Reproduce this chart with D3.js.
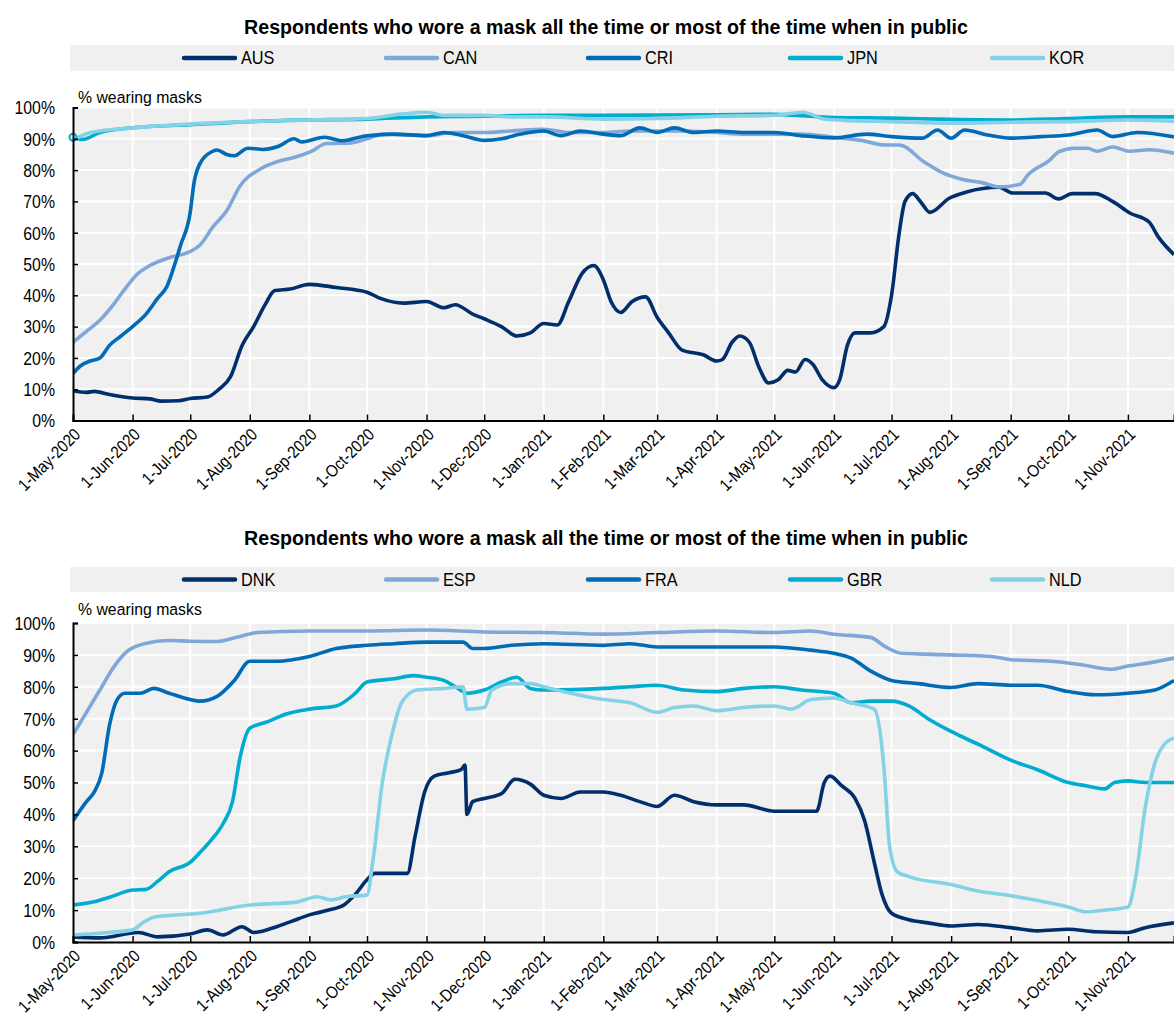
<!DOCTYPE html>
<html>
<head>
<meta charset="utf-8">
<script src="https://cdn.jsdelivr.net/npm/d3@7"></script>
<style>
  html, body { margin: 0; padding: 0; background: #fff; }
  svg { display: block; }
  text { font-family: "Liberation Sans", Arial, sans-serif; fill: #000; }
</style>
</head>
<body>
<svg id="chart" width="1174" height="1018"></svg>
<script>
// ---------- DATA ----------
const titleText = "Respondents who wore a mask all the time or most of the time when in public";
const yLabel = "% wearing masks";
const yTicks = [0, 10, 20, 30, 40, 50, 60, 70, 80, 90, 100];
const monthTicks = ["2020-05-01","2020-06-01","2020-07-01","2020-08-01","2020-09-01","2020-10-01","2020-11-01","2020-12-01",
  "2021-01-01","2021-02-01","2021-03-01","2021-04-01","2021-05-01","2021-06-01","2021-07-01","2021-08-01","2021-09-01","2021-10-01","2021-11-01"];
const xStart = "2020-05-01";
const xEnd = "2021-11-25";

const topCategories = ["AUS", "CAN", "CRI", "JPN", "KOR"];
const bottomCategories = ["DNK", "ESP", "FRA", "GBR", "NLD"];
const colors = ["#002F6C", "#7FA8D9", "#006BB6", "#00ACCF", "#84D2E6"];

const AUS = [["2020-05-01",9.5],["2020-05-08",9],["2020-05-12",9.3],["2020-05-20",8.3],["2020-06-01",7.2],["2020-06-10",6.9],["2020-06-16",6.2],["2020-06-25",6.3],["2020-07-01",7],["2020-07-10",7.5],["2020-07-16",10],["2020-07-22",14],["2020-07-28",24],["2020-08-03",30],["2020-08-09",37],["2020-08-14",41.5],["2020-08-22",42],["2020-09-01",43.5],["2020-09-15",42.5],["2020-10-01",41],["2020-10-08",39],["2020-10-20",37.5],["2020-11-01",38],["2020-11-10",36],["2020-11-16",37],["2020-11-25",34],["2020-12-01",32.5],["2020-12-10",30],["2020-12-18",27],["2020-12-25",28],["2021-01-01",31],["2021-01-08",30.5],["2021-01-14",38],["2021-01-21",47],["2021-01-27",49.5],["2021-02-01",45],["2021-02-05",38],["2021-02-10",34.5],["2021-02-16",38],["2021-02-23",39.5],["2021-03-01",33],["2021-03-07",28],["2021-03-14",22.5],["2021-03-25",21],["2021-04-01",19],["2021-04-04",19.5],["2021-04-09",25],["2021-04-13",27],["2021-04-18",25],["2021-04-23",17],["2021-04-28",12],["2021-05-03",13],["2021-05-08",16],["2021-05-12",15.5],["2021-05-17",19.5],["2021-05-21",18],["2021-05-26",13],["2021-06-01",10.5],["2021-06-04",13],["2021-06-08",24],["2021-06-12",28],["2021-06-20",28],["2021-06-27",30],["2021-07-01",40],["2021-07-05",60],["2021-07-08",70],["2021-07-12",72.5],["2021-07-16",70],["2021-07-21",66.5],["2021-07-31",71],["2021-08-09",73],["2021-08-26",74.5],["2021-09-02",72.7],["2021-09-19",72.7],["2021-09-26",70.8],["2021-10-03",72.5],["2021-10-15",72.5],["2021-10-24",70],["2021-11-02",66.3],["2021-11-12",63.4],["2021-11-17",58.5],["2021-11-25",53]];
const CAN = [["2020-05-01",25],["2020-05-08",28.5],["2020-05-15",32],["2020-05-22",37],["2020-05-28",42],["2020-06-03",46.5],["2020-06-10",49.5],["2020-06-20",52],["2020-07-01",54],["2020-07-06",56],["2020-07-13",62],["2020-07-20",67],["2020-07-27",75],["2020-08-07",80.5],["2020-08-16",82.8],["2020-08-24",84],["2020-09-02",86],["2020-09-10",88.5],["2020-09-23",88.7],["2020-10-01",90],["2020-10-10",91.5],["2020-11-01",91],["2020-11-15",92],["2020-12-01",92],["2020-12-15",92.5],["2021-01-01",93],["2021-01-15",92],["2021-02-01",92],["2021-02-15",92.5],["2021-03-01",92.5],["2021-03-15",92.5],["2021-04-01",92],["2021-04-15",91.5],["2021-05-01",91.5],["2021-05-15",91.5],["2021-06-01",90.5],["2021-06-15",89.5],["2021-06-28",88],["2021-07-05",88],["2021-07-18",82.6],["2021-07-28",79],["2021-08-07",77],["2021-08-17",76],["2021-08-26",74.6],["2021-09-06",75.5],["2021-09-10",78.5],["2021-09-21",83],["2021-09-26",85.8],["2021-10-04",87],["2021-10-11",87],["2021-10-16",86],["2021-10-24",87.4],["2021-11-02",86],["2021-11-12",86.5],["2021-11-25",85.4]];
const CRI = [["2020-05-01",15],["2020-05-05",17.5],["2020-05-10",19],["2020-05-15",20],["2020-05-20",24],["2020-05-26",27],["2020-06-01",30],["2020-06-08",34],["2020-06-14",39],["2020-06-19",43],["2020-06-23",50],["2020-06-26",56],["2020-07-01",66.5],["2020-07-03",76],["2020-07-06",82],["2020-07-12",85.8],["2020-07-15",86.4],["2020-07-20",85],["2020-07-24",84.6],["2020-07-31",87],["2020-08-08",86.6],["2020-08-16",87.6],["2020-08-24",90],["2020-08-28",89],["2020-09-09",90.5],["2020-09-18",89.4],["2020-10-01",91],["2020-10-15",91.5],["2020-11-01",91],["2020-11-10",92],["2020-11-20",91],["2020-12-01",89.5],["2020-12-10",90],["2020-12-20",91.5],["2021-01-01",92.5],["2021-01-10",91],["2021-01-20",92.5],["2021-02-01",91.5],["2021-02-10",91],["2021-02-20",93.5],["2021-03-01",92],["2021-03-10",93.5],["2021-03-20",92],["2021-04-01",92.5],["2021-04-15",92],["2021-05-01",92],["2021-05-15",91],["2021-06-01",90.3],["2021-06-18",91.5],["2021-07-01",90.7],["2021-07-17",90.2],["2021-07-25",92.8],["2021-08-01",90.2],["2021-08-08",92.8],["2021-08-20",91.2],["2021-09-01",90.2],["2021-09-17",90.7],["2021-10-01",91.2],["2021-10-16",92.8],["2021-10-24",90.7],["2021-11-06",92],["2021-11-25",90.6]];
const JPN = [["2020-05-01",90.5],["2020-05-06",89.8],["2020-05-15",92],["2020-06-01",93.5],["2020-07-01",94.5],["2020-08-01",95.5],["2020-09-01",96],["2020-10-01",96.3],["2020-11-01",97],["2020-12-01",97.2],["2021-01-01",97.5],["2021-02-01",97.5],["2021-03-01",97.6],["2021-04-01",97.7],["2021-05-01",97.8],["2021-06-01",96.8],["2021-07-01",96.6],["2021-08-01",96.2],["2021-09-01",96],["2021-10-01",96.5],["2021-11-01",97],["2021-11-25",97]];
const KOR = [["2020-05-01",89.5],["2020-05-10",92],["2020-06-01",93.5],["2020-07-01",94.7],["2020-08-01",95.5],["2020-09-01",96],["2020-10-01",96.5],["2020-10-20",98],["2020-11-01",98.5],["2020-11-10",97.5],["2020-12-01",97.5],["2020-12-15",97],["2021-01-01",97],["2021-02-01",96.3],["2021-03-01",96.5],["2021-04-01",97.2],["2021-05-01",97.5],["2021-05-16",98.5],["2021-05-27",96.3],["2021-06-10",95.8],["2021-07-01",95.5],["2021-08-01",95],["2021-09-01",95.3],["2021-10-01",95.5],["2021-11-01",96],["2021-11-25",95.6]];

const DNK = [["2020-05-01",1.6],["2020-05-15",1.3],["2020-06-04",3],["2020-06-14",1.6],["2020-07-01",2.5],["2020-07-10",3.8],["2020-07-18",2.2],["2020-07-28",4.8],["2020-08-03",3],["2020-08-12",4.2],["2020-08-22",6.3],["2020-09-01",8.5],["2020-09-11",10],["2020-09-19",11.6],["2020-09-25",15],["2020-10-01",19.5],["2020-10-05",21.5],["2020-10-15",21.5],["2020-10-22",21.5],["2020-10-26",33],["2020-10-31",47],["2020-11-05",52],["2020-11-12",53],["2020-11-19",54],["2020-11-21",55.5],["2020-11-22",40],["2020-11-25",44],["2020-12-01",45],["2020-12-10",46.5],["2020-12-17",51],["2020-12-25",49.5],["2021-01-01",46],["2021-01-10",45],["2021-01-20",47],["2021-02-01",47],["2021-02-10",46],["2021-02-20",44],["2021-03-01",42.5],["2021-03-10",46],["2021-03-20",44],["2021-04-01",43],["2021-04-15",43],["2021-05-01",41],["2021-05-15",41],["2021-05-23",41],["2021-05-27",50],["2021-05-30",52],["2021-06-05",49],["2021-06-12",45],["2021-06-17",38],["2021-06-22",25],["2021-06-26",15],["2021-07-01",9],["2021-07-10",7],["2021-07-20",6],["2021-08-01",5],["2021-08-15",5.5],["2021-09-01",4.5],["2021-09-15",3.5],["2021-10-01",4],["2021-10-15",3.2],["2021-11-01",3],["2021-11-10",4.5],["2021-11-25",6]];
const ESP = [["2020-05-01",65],["2020-05-08",72],["2020-05-15",79],["2020-05-22",86],["2020-05-29",91],["2020-06-07",93.5],["2020-06-20",94.5],["2020-07-01",94.3],["2020-07-15",94.2],["2020-07-25",95.5],["2020-08-05",97],["2020-09-01",97.5],["2020-10-01",97.5],["2020-11-01",97.8],["2020-12-01",97.2],["2021-01-01",97],["2021-02-01",96.5],["2021-03-01",97],["2021-04-01",97.5],["2021-05-01",97],["2021-05-20",97.5],["2021-06-01",96.5],["2021-06-20",95.5],["2021-06-28",92.5],["2021-07-06",90.5],["2021-08-01",90],["2021-08-22",89.5],["2021-09-01",88.5],["2021-09-22",88],["2021-10-07",87],["2021-10-23",85.5],["2021-11-01",86.5],["2021-11-12",87.5],["2021-11-25",89]];
const FRA = [["2020-05-01",38],["2020-05-08",44],["2020-05-12",47],["2020-05-16",53],["2020-05-20",68],["2020-05-24",76],["2020-05-28",78],["2020-06-05",78],["2020-06-12",79.5],["2020-06-20",78],["2020-07-01",76],["2020-07-06",75.5],["2020-07-15",77],["2020-07-24",82],["2020-08-01",88],["2020-08-15",88],["2020-09-01",89.5],["2020-09-15",92],["2020-10-01",93],["2020-10-15",93.5],["2020-11-01",94],["2020-11-20",94],["2020-11-25",92],["2020-12-01",92],["2020-12-15",93],["2021-01-01",93.5],["2021-02-01",93],["2021-02-15",93.5],["2021-03-01",92.5],["2021-04-01",92.5],["2021-05-01",92.5],["2021-05-20",91.5],["2021-06-01",90.5],["2021-06-10",89],["2021-06-20",85],["2021-07-01",82],["2021-07-15",81],["2021-08-01",79.8],["2021-08-15",81],["2021-09-01",80.5],["2021-09-15",80.5],["2021-10-01",78.5],["2021-10-15",77.5],["2021-11-01",78],["2021-11-15",79],["2021-11-25",82]];
const GBR = [["2020-05-01",11.6],["2020-05-12",12.6],["2020-05-20",14],["2020-06-01",16.3],["2020-06-08",16.5],["2020-06-14",19],["2020-06-20",22],["2020-07-01",25],["2020-07-06",28],["2020-07-12",32],["2020-07-18",37],["2020-07-23",44],["2020-07-27",58],["2020-08-01",67],["2020-08-10",69],["2020-08-20",71.5],["2020-09-01",73],["2020-09-15",74],["2020-09-25",78],["2020-10-01",81.5],["2020-10-15",82.5],["2020-10-25",83.5],["2020-11-01",83],["2020-11-10",82],["2020-11-16",80],["2020-11-22",78],["2020-12-01",79],["2020-12-10",81.5],["2020-12-18",83],["2020-12-25",79.5],["2021-01-01",79],["2021-02-01",79.5],["2021-02-15",80],["2021-03-01",80.5],["2021-03-15",79],["2021-04-01",78.5],["2021-04-15",79.5],["2021-05-01",80],["2021-05-15",79],["2021-06-01",78],["2021-06-10",75],["2021-06-20",75.5],["2021-07-01",75.5],["2021-07-10",74],["2021-07-20",70],["2021-08-01",66],["2021-08-15",62],["2021-09-01",57],["2021-09-15",54],["2021-10-01",50],["2021-10-10",49],["2021-10-20",48],["2021-10-25",50],["2021-11-01",50.5],["2021-11-10",50],["2021-11-25",50]];
const NLD = [["2020-05-01",2.2],["2020-05-20",3],["2020-06-01",3.8],["2020-06-07",6.3],["2020-06-13",7.9],["2020-07-06",9],["2020-08-01",11.6],["2020-08-25",12.5],["2020-09-05",14.2],["2020-09-12",13.2],["2020-09-20",14.2],["2020-10-01",14.7],["2020-10-04",25],["2020-10-09",50],["2020-10-14",65],["2020-10-19",75],["2020-10-27",79],["2020-11-10",79.5],["2020-11-20",80],["2020-11-22",73],["2020-12-01",73.5],["2020-12-05",79],["2020-12-15",81],["2020-12-25",81],["2021-01-01",80],["2021-01-15",78],["2021-02-01",76],["2021-02-15",75],["2021-03-01",72],["2021-03-10",73.5],["2021-03-20",74],["2021-04-01",72.5],["2021-04-15",73.5],["2021-05-01",74],["2021-05-10",73],["2021-05-20",76],["2021-06-01",76.5],["2021-06-10",75],["2021-06-22",73],["2021-06-27",55],["2021-06-30",30],["2021-07-04",22],["2021-07-10",20.5],["2021-08-01",18],["2021-08-15",16],["2021-09-01",14.5],["2021-09-15",13],["2021-10-01",11],["2021-10-10",9.5],["2021-10-20",10],["2021-11-01",11],["2021-11-05",20],["2021-11-10",42],["2021-11-15",56],["2021-11-20",62],["2021-11-25",64]];

const topSeries = [AUS, CAN, CRI, JPN, KOR];
const bottomSeries = [DNK, ESP, FRA, GBR, NLD];

// ---------- DRAW ----------
const svg = d3.select("#chart");
const parse = d3.utcParse("%Y-%m-%d");
const fmt = d3.utcFormat("%-d-%b-%Y");
const SX = 0.88; // horizontal squeeze of the narrow type face

function label(g, x, y, txt, size, anchor, bold, sx) {
  return g.append("text")
    .attr("transform", `translate(${x},${y}) scale(${sx || SX},1)`)
    .attr("dy", "0.35em").attr("text-anchor", anchor)
    .style("font-size", size + "px").style("font-weight", bold ? "bold" : "normal")
    .text(txt);
}

const panels = [
  { cats: topCategories, series: topSeries, titleY: 27, bandY: 45, bandH: 26, yLabY: 97, plotTop: 107.5, plotBottom: 420.5, startMarker: 3 },
  { cats: bottomCategories, series: bottomSeries, titleY: 538, bandY: 567, bandH: 25, yLabY: 609, plotTop: 623, plotBottom: 942, startMarker: null }
];

const left = 73, right = 1174;

panels.forEach((p, pi) => {
  const g = svg.append("g");
  const x = d3.scaleUtc().domain([parse(xStart), parse(xEnd)]).range([left, right]);
  const y = d3.scaleLinear().domain([0, 100]).range([p.plotBottom, p.plotTop]);

  // title
  label(g, 606, p.titleY, titleText, 21, "middle", true, 0.935);

  // legend band
  g.append("rect").attr("x", 70).attr("y", p.bandY).attr("width", right - 70).attr("height", p.bandH).attr("fill", "#f0f0f0");
  p.cats.forEach((c, i) => {
    const lx = 184 + i * 202;
    const ly = p.bandY + p.bandH / 2;
    g.append("line").attr("x1", lx).attr("x2", lx + 51).attr("y1", ly).attr("y2", ly)
      .attr("stroke", colors[i]).attr("stroke-width", 4.5).attr("stroke-linecap", "round");
    label(g, lx + 57, ly, c, 18.5, "start", false);
  });

  // plot background
  g.append("rect").attr("x", left).attr("y", p.plotTop).attr("width", right - left).attr("height", p.plotBottom - p.plotTop).attr("fill", "#f0f0f0");

  // gridlines
  const tickDates = monthTicks.map(parse);
  g.append("g").selectAll("line").data(tickDates.slice(1)).join("line")
    .attr("x1", d => x(d)).attr("x2", d => x(d)).attr("y1", p.plotTop).attr("y2", p.plotBottom)
    .attr("stroke", "#fff").attr("stroke-width", 2);
  g.append("g").selectAll("line").data(yTicks.slice(1)).join("line")
    .attr("x1", left).attr("x2", right).attr("y1", d => y(d)).attr("y2", d => y(d))
    .attr("stroke", "#fff").attr("stroke-width", 2);

  // y label
  label(g, 78, p.yLabY, yLabel, 17, "start", false, 0.93);

  // clip
  const clipId = "clip" + pi;
  svg.append("clipPath").attr("id", clipId).append("rect")
    .attr("x", left).attr("y", p.plotTop - 10).attr("width", right - left).attr("height", p.plotBottom - p.plotTop + 10);

  // lines
  const line = d3.line().x(d => x(parse(d[0]))).y(d => y(d[1])).curve(d3.curveMonotoneX);
  const lg = g.append("g").attr("clip-path", `url(#${clipId})`);
  p.series.forEach((s, i) => {
    lg.append("path").datum(s).attr("d", line).attr("fill", "none")
      .attr("stroke", colors[i]).attr("stroke-width", 3.6).attr("stroke-linejoin", "round");
  });
  if (p.startMarker !== null) {
    const s = p.series[p.startMarker];
    g.append("circle").attr("cx", x(parse(s[0][0]))).attr("cy", y(s[0][1])).attr("r", 3.5)
      .attr("fill", "#f0f0f0").attr("stroke", colors[p.startMarker]).attr("stroke-width", 2);
  }

  // y axis
  const yAxis = d3.axisLeft(y).tickValues(yTicks).tickSize(-5).tickFormat(d => d + "%");
  const ya = g.append("g").attr("transform", `translate(${left},0)`).call(yAxis);
  ya.select(".domain").attr("stroke", "#000").attr("stroke-width", 2);
  ya.selectAll(".tick line").attr("stroke", "#000").attr("stroke-width", 1.5);
  ya.selectAll(".tick text").attr("x", null).attr("dy", "0.35em")
    .style("font-size", "18px").style("font-family", null).attr("fill", "#000")
    .attr("text-anchor", "end").attr("transform", `translate(-18,0) scale(${SX},1)`);

  // x axis
  const xAxis = d3.axisBottom(x).tickValues(tickDates).tickSize(-6).tickFormat(fmt);
  const xa = g.append("g").attr("transform", `translate(0,${p.plotBottom})`).call(xAxis);
  xa.select(".domain").attr("stroke", "#000").attr("stroke-width", 2);
  xa.selectAll(".tick line").attr("stroke", "#000").attr("stroke-width", 1.5);
  xa.selectAll(".tick text").style("font-size", "17px").style("font-family", null).attr("fill", "#000")
    .attr("text-anchor", "end").attr("y", 0).attr("dy", 0)
    .attr("transform", `translate(8,15) rotate(-45) scale(${SX},1)`);
});
</script>
</body>
</html>
